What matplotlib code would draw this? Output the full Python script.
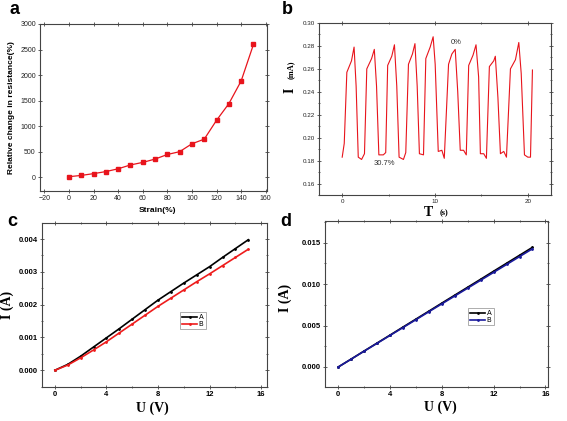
import matplotlib

matplotlib.use("Agg")

import matplotlib.pyplot as plt
from matplotlib.ticker import AutoMinorLocator, MultipleLocator

# panel a: relative resistance change vs strain
strain = [0, 10, 20, 30, 40, 50, 60, 70, 80, 90, 100, 110, 120, 130, 140, 150]
dr = [10, 35, 70, 110, 165, 240, 290, 355, 445, 500, 655, 745, 1115, 1440, 1885, 2600]

# panel b: current under cyclic strain
t_s = [0.00, 0.22, 0.50, 1.00, 1.28, 1.50, 1.73, 2.09, 2.40, 2.65, 3.17, 3.46, 3.70,
       3.95, 4.43, 4.69, 4.90, 5.34, 5.63, 5.88, 6.13, 6.60, 6.85, 7.14, 7.57, 7.84,
       8.08, 8.32, 8.76, 9.01, 9.48, 9.80, 10.02, 10.35, 10.74, 11.00, 11.46, 11.82,
       12.18, 12.45, 12.72, 13.08, 13.37, 13.63, 14.10, 14.42, 14.70, 14.89, 15.25,
       15.54, 15.86, 16.33, 16.50, 16.78, 17.05, 17.41, 17.70, 18.13, 18.67, 19.03,
       19.29, 19.64, 20.00, 20.29, 20.50]
i_ma = [0.183, 0.195, 0.257, 0.267, 0.279, 0.245, 0.183, 0.181, 0.186, 0.260, 0.269,
        0.277, 0.245, 0.185, 0.185, 0.187, 0.263, 0.271, 0.281, 0.245, 0.183, 0.181,
        0.187, 0.264, 0.273, 0.282, 0.245, 0.186, 0.185, 0.269, 0.279, 0.288, 0.264,
        0.188, 0.189, 0.182, 0.264, 0.273, 0.277, 0.240, 0.189, 0.189, 0.185, 0.263,
        0.272, 0.281, 0.253, 0.186, 0.186, 0.182, 0.262, 0.267, 0.271, 0.235, 0.186,
        0.188, 0.183, 0.260, 0.268, 0.283, 0.256, 0.185, 0.183, 0.183, 0.259]

# panels c and d: I-V curves
u_v = [0, 1, 2, 3, 4, 5, 6, 7, 8, 9, 10, 11, 12, 13, 14, 15]
c_a = [0, 0.00018, 0.00043, 0.00071, 0.00099, 0.00127, 0.00156, 0.00185, 0.00214,
       0.00240, 0.00266, 0.00291, 0.00316, 0.00344, 0.00371, 0.00398]
c_b = [0, 0.00016, 0.00038, 0.00062, 0.00087, 0.00114, 0.00141, 0.00168, 0.00195,
       0.00220, 0.00245, 0.00270, 0.00294, 0.00319, 0.00344, 0.00369]
d_a = [0, 0.00096, 0.00193, 0.00289, 0.00385, 0.00482, 0.00578, 0.00674, 0.00771,
       0.00867, 0.00963, 0.01059, 0.01156, 0.01252, 0.01348, 0.01444]
d_b = [0, 0.00095, 0.00191, 0.00286, 0.00381, 0.00476, 0.00571, 0.00667, 0.00762,
       0.00857, 0.00952, 0.01047, 0.01142, 0.01237, 0.01332, 0.01427]

SANS = "Liberation Sans"
SERIF = "Liberation Serif"
W, H = 567, 421


def frac(px, py):
    return px / W, 1 - py / H


def style_axes(ax, size, weight="normal", color="#222222"):
    ax.tick_params(which="both", direction="inout", top=True, right=True,
                   labelsize=size, colors="#444444", labelcolor=color, width=0.6,
                   pad=1.5)
    ax.tick_params(which="major", length=3)
    ax.tick_params(which="minor", length=2)
    for lab in ax.get_xticklabels() + ax.get_yticklabels():
        lab.set_fontfamily(SANS)
        lab.set_fontweight(weight)
    for spine in ax.spines.values():
        spine.set_linewidth(0.8)
        spine.set_color("#444444")


def add_legend(ax, anchor):
    leg = ax.legend(loc="upper left", bbox_to_anchor=anchor, fontsize=5,
                    handlelength=2.2, frameon=True, fancybox=False, borderpad=0.3,
                    labelspacing=0.15, handletextpad=0.2, borderaxespad=0)
    leg.get_frame().set_edgecolor("#888888")
    leg.get_frame().set_linewidth(0.6)


fig = plt.figure(figsize=(5.67, 4.21), dpi=100)

# ---- a
ax = fig.add_axes([40 / W, 1 - 191 / H, 227 / W, 167 / H])
ax.plot(strain, dr, color="#e8141c", marker="s", markersize=3, linewidth=0.9)
ax.set_xlim(-23.5, 161)
ax.set_ylim(-270, 3000)
ax.xaxis.set_major_locator(MultipleLocator(20))
ax.yaxis.set_major_locator(MultipleLocator(500))
style_axes(ax, 5)
fig.text(*frac(157, 210), "Strain(%)", ha="center", va="center",
         fontsize=6, fontweight="bold", family=SANS)
fig.text(*frac(12, 108), "Relative change in resistance(%)", ha="center", va="center",
         rotation=90, fontsize=6, fontweight="bold", family=SANS)

# ---- b
ax = fig.add_axes([319 / W, 1 - 195 / H, 232 / W, 172 / H])
ax.plot(t_s, i_ma, color="#e8141c", linewidth=0.8)
ax.set_xlim(-2.5, 22.5)
ax.set_ylim(0.15, 0.30)
ax.xaxis.set_major_locator(MultipleLocator(10))
ax.xaxis.set_minor_locator(AutoMinorLocator(2))
ax.yaxis.set_major_locator(MultipleLocator(0.02))
ax.yaxis.set_minor_locator(AutoMinorLocator(2))
style_axes(ax, 4.5)
ax.text(12.3, 0.2834, "0%", ha="center", va="center", fontsize=5.5,
        family=SANS, color="#333333")
ax.text(4.5, 0.1778, "30.7%", ha="center", va="center", fontsize=5.5,
        family=SANS, color="#333333")
fig.text(*frac(290, 90), "I", ha="center", va="center", rotation=90,
         fontsize=10, fontweight="bold", family=SERIF)
fig.text(*frac(291, 70), "(mA)", ha="center", va="center", rotation=90,
         fontsize=6, fontweight="bold", family=SERIF)
fig.text(*frac(428, 212), "T", ha="center", va="center",
         fontsize=10, fontweight="bold", family=SERIF)
fig.text(*frac(444, 213), "(s)", ha="center", va="center",
         fontsize=6, fontweight="bold", family=SERIF)

# ---- c
ax = fig.add_axes([42 / W, 1 - 387 / H, 225 / W, 164 / H])
ax.plot(u_v, c_a, color="black", marker=".", markersize=2, linewidth=1.2, label="A")
ax.plot(u_v, c_b, color="#ee1c1c", marker=".", markersize=2, linewidth=1.2, label="B")
ax.set_xlim(-1.0, 16.45)
ax.set_ylim(-0.00051, 0.00449)
ax.xaxis.set_major_locator(MultipleLocator(4))
ax.xaxis.set_minor_locator(AutoMinorLocator(2))
ax.yaxis.set_major_locator(MultipleLocator(0.001))
ax.yaxis.set_minor_locator(AutoMinorLocator(2))
ax.yaxis.set_major_formatter(plt.FormatStrFormatter("%.3f"))
style_axes(ax, 5.5, weight="bold", color="black")
add_legend(ax, (0.613, 0.457))
fig.text(*frac(7, 305), "I (A)", ha="center", va="center", rotation=90,
         fontsize=10, fontweight="bold", family=SERIF)
fig.text(*frac(152, 408), "U (V)", ha="center", va="center",
         fontsize=10, fontweight="bold", family=SERIF)

# ---- d
ax = fig.add_axes([325 / W, 1 - 387 / H, 223 / W, 166 / H])
ax.plot(u_v, d_a, color="black", marker=".", markersize=2, linewidth=1.2, label="A")
ax.plot(u_v, d_b, color="#1a1a9c", marker=".", markersize=2, linewidth=1.2, label="B")
ax.set_xlim(-1.03, 16.2)
ax.set_ylim(-0.00242, 0.01762)
ax.xaxis.set_major_locator(MultipleLocator(4))
ax.xaxis.set_minor_locator(AutoMinorLocator(2))
ax.yaxis.set_major_locator(MultipleLocator(0.005))
ax.yaxis.set_minor_locator(AutoMinorLocator(2))
ax.yaxis.set_major_formatter(plt.FormatStrFormatter("%.3f"))
style_axes(ax, 5.5, weight="bold", color="black")
add_legend(ax, (0.641, 0.476))
fig.text(*frac(285, 298), "I (A)", ha="center", va="center", rotation=90,
         fontsize=10, fontweight="bold", family=SERIF)
fig.text(*frac(440, 407), "U (V)", ha="center", va="center",
         fontsize=10, fontweight="bold", family=SERIF)

# panel letters
for letter, px, py in [("a", 14, 10), ("b", 287, 9), ("c", 12, 221), ("d", 286, 221)]:
    fig.text(*frac(px, py), letter, ha="center", va="center",
             fontsize=13, fontweight="bold", family=SANS)

fig.savefig("out.png", dpi=100)
